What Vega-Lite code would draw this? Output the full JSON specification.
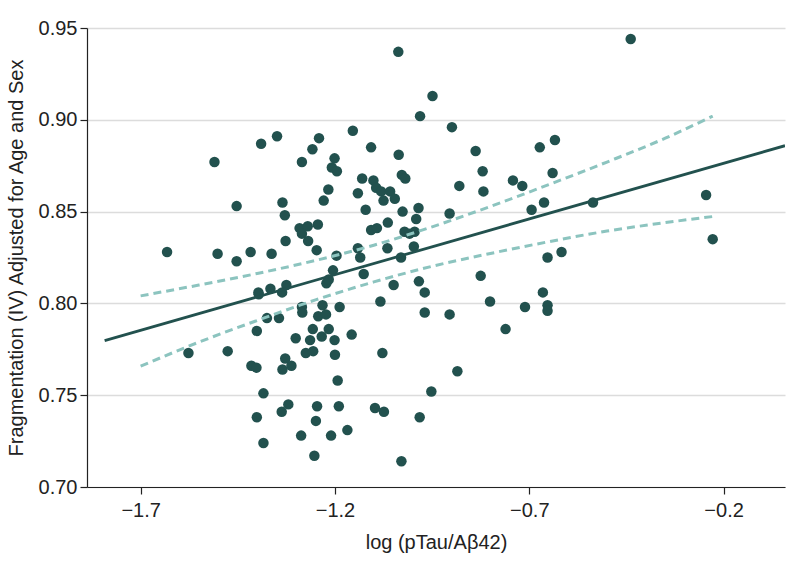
{
  "$schema": "https://vega.github.io/schema/vega-lite/v6.json",
  "width": 698,
  "height": 459,
  "autosize": {"type": "none"},
  "padding": {"left": 87, "top": 28, "right": 9, "bottom": 83},
  "background": "white",
  "config": {
    "view": {"stroke": null},
    "font": "Liberation Sans",
    "axis": {"labelFont": "Liberation Sans", "titleFont": "Liberation Sans", "labelColor": "#222", "titleColor": "#222", "titleFontWeight": "normal"}
  },
  "datasets": {
    "points": [
      {"x": -1.510, "y": 0.877}, {"x": -1.390, "y": 0.887}, {"x": -1.349, "y": 0.891}, {"x": -1.241, "y": 0.890},
      {"x": -1.258, "y": 0.884}, {"x": -1.285, "y": 0.877}, {"x": -1.201, "y": 0.879}, {"x": -1.208, "y": 0.874},
      {"x": -1.195, "y": 0.872}, {"x": -1.217, "y": 0.862}, {"x": -1.229, "y": 0.856}, {"x": -1.335, "y": 0.855},
      {"x": -1.453, "y": 0.853}, {"x": -1.329, "y": 0.848}, {"x": -1.244, "y": 0.843}, {"x": -1.291, "y": 0.841},
      {"x": -1.270, "y": 0.842}, {"x": -1.285, "y": 0.838}, {"x": -1.269, "y": 0.834}, {"x": -1.327, "y": 0.834},
      {"x": -1.247, "y": 0.829}, {"x": -1.632, "y": 0.828}, {"x": -1.502, "y": 0.827}, {"x": -1.417, "y": 0.828},
      {"x": -1.363, "y": 0.827}, {"x": -1.196, "y": 0.826}, {"x": -1.453, "y": 0.823}, {"x": -1.154, "y": 0.894},
      {"x": -1.037, "y": 0.937}, {"x": -0.949, "y": 0.913}, {"x": -0.981, "y": 0.902}, {"x": -0.899, "y": 0.896},
      {"x": -1.107, "y": 0.885}, {"x": -1.036, "y": 0.881}, {"x": -0.838, "y": 0.883}, {"x": -0.673, "y": 0.885},
      {"x": -0.634, "y": 0.889}, {"x": -1.130, "y": 0.868}, {"x": -1.101, "y": 0.867}, {"x": -1.028, "y": 0.870},
      {"x": -1.019, "y": 0.868}, {"x": -1.094, "y": 0.863}, {"x": -1.081, "y": 0.861}, {"x": -1.058, "y": 0.861},
      {"x": -1.141, "y": 0.860}, {"x": -1.046, "y": 0.857}, {"x": -1.075, "y": 0.856}, {"x": -1.121, "y": 0.851},
      {"x": -1.026, "y": 0.850}, {"x": -0.985, "y": 0.852}, {"x": -0.880, "y": 0.864}, {"x": -0.820, "y": 0.872},
      {"x": -0.818, "y": 0.861}, {"x": -0.742, "y": 0.867}, {"x": -0.718, "y": 0.864}, {"x": -0.640, "y": 0.871},
      {"x": -0.662, "y": 0.855}, {"x": -0.694, "y": 0.851}, {"x": -0.905, "y": 0.849}, {"x": -0.991, "y": 0.846},
      {"x": -1.064, "y": 0.844}, {"x": -1.107, "y": 0.840}, {"x": -1.092, "y": 0.841}, {"x": -1.021, "y": 0.839},
      {"x": -1.008, "y": 0.838}, {"x": -0.995, "y": 0.839}, {"x": -0.997, "y": 0.831}, {"x": -1.065, "y": 0.830},
      {"x": -1.141, "y": 0.830}, {"x": -1.135, "y": 0.825}, {"x": -1.030, "y": 0.825}, {"x": -0.653, "y": 0.825},
      {"x": -0.617, "y": 0.828}, {"x": -0.439, "y": 0.944}, {"x": -0.536, "y": 0.855}, {"x": -0.245, "y": 0.859},
      {"x": -0.228, "y": 0.835}, {"x": -1.205, "y": 0.818}, {"x": -1.222, "y": 0.811}, {"x": -1.216, "y": 0.813},
      {"x": -1.325, "y": 0.810}, {"x": -1.336, "y": 0.806}, {"x": -1.366, "y": 0.808}, {"x": -1.397, "y": 0.806},
      {"x": -1.396, "y": 0.805}, {"x": -1.285, "y": 0.798}, {"x": -1.284, "y": 0.795}, {"x": -1.232, "y": 0.799},
      {"x": -1.188, "y": 0.798}, {"x": -1.243, "y": 0.793}, {"x": -1.223, "y": 0.794}, {"x": -1.375, "y": 0.792},
      {"x": -1.344, "y": 0.792}, {"x": -1.401, "y": 0.785}, {"x": -1.257, "y": 0.786}, {"x": -1.216, "y": 0.786},
      {"x": -1.234, "y": 0.782}, {"x": -1.301, "y": 0.781}, {"x": -1.264, "y": 0.780}, {"x": -1.201, "y": 0.780},
      {"x": -1.157, "y": 0.783}, {"x": -1.577, "y": 0.773}, {"x": -1.476, "y": 0.774}, {"x": -1.275, "y": 0.773},
      {"x": -1.256, "y": 0.774}, {"x": -1.200, "y": 0.772}, {"x": -1.415, "y": 0.766}, {"x": -1.402, "y": 0.765},
      {"x": -1.328, "y": 0.770}, {"x": -1.335, "y": 0.764}, {"x": -1.312, "y": 0.766}, {"x": -1.193, "y": 0.758},
      {"x": -1.384, "y": 0.751}, {"x": -1.320, "y": 0.745}, {"x": -1.337, "y": 0.741}, {"x": -1.246, "y": 0.744},
      {"x": -1.190, "y": 0.744}, {"x": -1.401, "y": 0.738}, {"x": -1.249, "y": 0.736}, {"x": -1.168, "y": 0.731},
      {"x": -1.287, "y": 0.728}, {"x": -1.210, "y": 0.728}, {"x": -1.384, "y": 0.724}, {"x": -1.253, "y": 0.717},
      {"x": -1.126, "y": 0.816}, {"x": -1.049, "y": 0.810}, {"x": -0.984, "y": 0.812}, {"x": -0.969, "y": 0.806},
      {"x": -0.825, "y": 0.815}, {"x": -0.801, "y": 0.801}, {"x": -0.665, "y": 0.806}, {"x": -1.083, "y": 0.801},
      {"x": -0.969, "y": 0.795}, {"x": -0.905, "y": 0.794}, {"x": -0.711, "y": 0.798}, {"x": -0.653, "y": 0.799},
      {"x": -0.653, "y": 0.796}, {"x": -0.761, "y": 0.786}, {"x": -1.078, "y": 0.773}, {"x": -0.885, "y": 0.763},
      {"x": -0.952, "y": 0.752}, {"x": -1.097, "y": 0.743}, {"x": -1.074, "y": 0.741}, {"x": -0.982, "y": 0.738},
      {"x": -1.029, "y": 0.714}
    ],
    "fit": [
      {"x": -1.7926, "y": 0.7797},
      {"x": -0.042, "y": 0.8859}
    ],
    "ci": [
      {"x": -1.7, "y": 0.8041, "bound": "upper"},
      {"x": -1.55, "y": 0.8100, "bound": "upper"},
      {"x": -1.4, "y": 0.8163, "bound": "upper"},
      {"x": -1.25, "y": 0.8234, "bound": "upper"},
      {"x": -1.1, "y": 0.8317, "bound": "upper"},
      {"x": -0.95, "y": 0.8417, "bound": "upper"},
      {"x": -0.8, "y": 0.8528, "bound": "upper"},
      {"x": -0.65, "y": 0.8647, "bound": "upper"},
      {"x": -0.5, "y": 0.8770, "bound": "upper"},
      {"x": -0.35, "y": 0.8900, "bound": "upper"},
      {"x": -0.228, "y": 0.9020, "bound": "upper"},
      {"x": -1.7, "y": 0.7658, "bound": "lower"},
      {"x": -1.55, "y": 0.7789, "bound": "lower"},
      {"x": -1.4, "y": 0.7907, "bound": "lower"},
      {"x": -1.25, "y": 0.8019, "bound": "lower"},
      {"x": -1.1, "y": 0.8117, "bound": "lower"},
      {"x": -0.95, "y": 0.8202, "bound": "lower"},
      {"x": -0.8, "y": 0.8272, "bound": "lower"},
      {"x": -0.65, "y": 0.8336, "bound": "lower"},
      {"x": -0.5, "y": 0.8394, "bound": "lower"},
      {"x": -0.35, "y": 0.8440, "bound": "lower"},
      {"x": -0.228, "y": 0.8473, "bound": "lower"}
    ]
  },
  "encoding": {
    "x": {
      "field": "x", "type": "quantitative",
      "scale": {"domain": [-1.838, -0.042], "nice": false, "zero": false},
      "axis": {
        "title": "log (pTau/Aβ42)",
        "values": [-1.7, -1.2, -0.7, -0.2],
        "format": ".1f",
        "grid": false,
        "domainColor": "#222", "domainWidth": 1.2,
        "tickColor": "#222", "tickSize": 7, "tickWidth": 1.2,
        "labelFontSize": 20, "labelPadding": 6,
        "titleFontSize": 20, "titlePadding": 12
      }
    },
    "y": {
      "field": "y", "type": "quantitative",
      "scale": {"domain": [0.70, 0.95], "nice": false, "zero": false},
      "axis": {
        "title": "Fragmentation (IV) Adjusted for Age and Sex",
        "values": [0.70, 0.75, 0.80, 0.85, 0.90, 0.95],
        "format": ".2f",
        "grid": true, "gridColor": "#dcdcdc", "gridWidth": 1.5,
        "domainColor": "#222", "domainWidth": 1.2,
        "tickColor": "#222", "tickSize": 7, "tickWidth": 1.2,
        "labelFontSize": 20, "labelPadding": 3,
        "titleFontSize": 20, "titlePadding": 12
      }
    }
  },
  "layer": [
    {
      "data": {"name": "points"},
      "mark": {"type": "circle", "size": 110, "color": "#22514e", "opacity": 1}
    },
    {
      "data": {"name": "ci"},
      "mark": {"type": "line", "color": "#8cc4bf", "strokeWidth": 3, "strokeDash": [8, 5], "interpolate": "monotone", "clip": true},
      "encoding": {"detail": {"field": "bound", "type": "nominal"}}
    },
    {
      "data": {"name": "fit"},
      "mark": {"type": "line", "color": "#22514e", "strokeWidth": 2.8, "clip": true},
      "encoding": {}
    }
  ]
}
